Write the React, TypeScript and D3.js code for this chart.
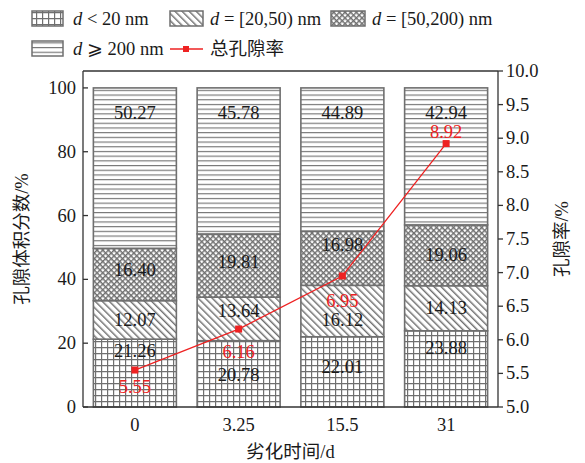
import React from 'react';
import * as d3 from 'd3';

const times = ['0', '3.25', '15.5', '31'];
const seriesNames = ['d < 20 nm', 'd = [20,50) nm', 'd = [50,200) nm', 'd ⩾ 200 nm'];
const small = [21.26, 20.78, 22.01, 23.88];
const mid = [12.07, 13.64, 16.12, 14.13];
const large = [16.40, 19.81, 16.98, 19.06];
const huge = [50.27, 45.78, 44.89, 42.94];
const porosity = [5.55, 6.16, 6.95, 8.92];
const leftTicks = [0, 20, 40, 60, 80, 100];
const rightTicks = [5, 5.5, 6, 6.5, 7, 7.5, 8, 8.5, 9, 9.5, 10];

// label nudges (px) for segment values and porosity labels, to avoid overlaps
const segNudge = [
  [-22, 0, -4],
  [1, -8, -4],
  [-5, 9, -13],
  [-21, 0, 0],
];
const porNudge = [17, 23, 25, -12];

const W = 585, H = 463;
const M = { top: 71, right: 87, bottom: 56, left: 83 };
const FONT = '"Liberation Serif", "Times New Roman", "DejaVu Serif", "Noto Sans CJK SC", serif';
const GRAY = '#6f6f6f';
const FS = 18.5;

const patIds = ['p-grid', 'p-diag', 'p-cross', 'p-horiz'];

function Patterns() {
  return (
    <defs>
      <pattern id="p-grid" width={6} height={6} patternUnits="userSpaceOnUse">
        <rect width={6} height={6} fill="#fff" />
        <path d="M0 0.6H6M0.6 0V6" stroke={GRAY} strokeWidth={1.2} />
      </pattern>
      <pattern id="p-diag" width={5} height={5} patternUnits="userSpaceOnUse" patternTransform="rotate(-45)">
        <rect width={5} height={5} fill="#fff" />
        <path d="M0.7 0V5" stroke={GRAY} strokeWidth={1.5} />
      </pattern>
      <pattern id="p-cross" width={4} height={4} patternUnits="userSpaceOnUse" patternTransform="rotate(45)">
        <rect width={4} height={4} fill="#fff" />
        <path d="M0 0.7H4M0.7 0V4" stroke={GRAY} strokeWidth={1.4} />
      </pattern>
      <pattern id="p-horiz" width={5} height={4.7} patternUnits="userSpaceOnUse">
        <rect width={5} height={4.7} fill="#fff" />
        <path d="M0 0.6H5" stroke={GRAY} strokeWidth={1.1} />
      </pattern>
    </defs>
  );
}

function LegendLabel({ x, y, text }: { x: number; y: number; text: string }) {
  const rest = text.slice(1);
  return (
    <text x={x} y={y} fontSize={FS} dominantBaseline="central" fill="#1a1a1a">
      <tspan fontStyle="italic">d</tspan>
      <tspan>{rest}</tspan>
    </text>
  );
}

export default function App() {
  const iw = W - M.left - M.right;
  const ih = H - M.top - M.bottom;
  const x = d3.scaleBand<string>().domain(times).range([0, iw]).paddingInner(0.2).paddingOuter(0.1);
  const y = d3.scaleLinear().domain([0, 105.3]).range([ih, 0]);
  const y2 = d3.scaleLinear().domain([5, 10]).range([ih, 0]);

  const series = [small, mid, large, huge];
  const rows = times.map((t, i) => ({ t, vals: series.map(s => s[i]) }));

  const line = d3.line<number>()
    .x((_, i) => (x(times[i]) ?? 0) + x.bandwidth() / 2)
    .y(d => y2(d));

  const legendItems = [
    { x: 32, y: 11, w: 31, text: seriesNames[0], pat: 0, tx: 73 },
    { x: 170, y: 11, w: 33, text: seriesNames[1], pat: 1, tx: 210 },
    { x: 331, y: 11, w: 34, text: seriesNames[2], pat: 2, tx: 372 },
    { x: 32, y: 41, w: 31, text: seriesNames[3], pat: 3, tx: 73 },
  ];

  return (
    <div style={{ position: 'absolute', left: 0, top: 0 }}>
      <svg width={W} height={H} style={{ display: 'block', background: '#fff', fontFamily: FONT }}>
        <Patterns />

        {/* legend */}
        {legendItems.map((l, i) => (
          <g key={i}>
            <rect x={l.x} y={l.y} width={l.w} height={15} fill={`url(#${patIds[l.pat]})`} stroke={GRAY} strokeWidth={1.5} />
            <LegendLabel x={l.tx} y={l.y + 8} text={l.text} />
          </g>
        ))}
        <line x1={170} x2={203} y1={49} y2={49} stroke="#ee2222" strokeWidth={1.3} />
        <rect x={183} y={46} width={6} height={6} fill="#ee2222" />
        <text x={210} y={49} fontSize={FS} dominantBaseline="central" fill="#1a1a1a">总孔隙率</text>

        <g transform={`translate(${M.left},${M.top})`}>
          {/* bars */}
          {rows.map(r => {
            const bx = x(r.t) ?? 0;
            let acc = 0;
            return (
              <g key={r.t}>
                {r.vals.map((v, j) => {
                  const y0 = acc;
                  acc += v;
                  return (
                    <rect key={j} x={bx} y={y(acc)} width={x.bandwidth()} height={y(y0) - y(acc)}
                      fill={`url(#${patIds[j]})`} stroke={GRAY} strokeWidth={1.6} />
                  );
                })}
              </g>
            );
          })}

          {/* segment labels */}
          {rows.map((r, i) => {
            const cx = (x(r.t) ?? 0) + x.bandwidth() / 2;
            let acc = 0;
            return r.vals.map((v, j) => {
              const y0 = acc;
              acc += v;
              const cy = j === 3 ? y(100) + 25 : (y(y0) + y(acc)) / 2 + segNudge[i][j];
              return (
                <text key={`${i}-${j}`} x={cx} y={cy} textAnchor="middle" dominantBaseline="central"
                  fontSize={FS} fill="#1a1a1a">{v.toFixed(2)}</text>
              );
            });
          })}

          {/* porosity line */}
          <path d={line(porosity) ?? ''} fill="none" stroke="#ee2222" strokeWidth={1.3} />
          {porosity.map((p, i) => {
            const cx = (x(times[i]) ?? 0) + x.bandwidth() / 2;
            return (
              <g key={i}>
                <rect x={cx - 3.5} y={y2(p) - 3.5} width={7} height={7} fill="#ee2222" />
                <text x={cx} y={y2(p) + porNudge[i]} textAnchor="middle" dominantBaseline="central"
                  fontSize={FS} fill="#ee2222">{p.toFixed(2)}</text>
              </g>
            );
          })}

          {/* frame */}
          <line x1={0} x2={iw} y1={0} y2={0} stroke="#333" strokeWidth={1.3} />
          <line x1={0} x2={iw} y1={ih} y2={ih} stroke="#333" strokeWidth={1.3} />
          <line x1={0} x2={0} y1={0} y2={ih} stroke="#333" strokeWidth={1.3} />
          <line x1={iw} x2={iw} y1={0} y2={ih} stroke="#333" strokeWidth={1.3} />

          {/* left axis */}
          {leftTicks.map(t => (
            <g key={t} transform={`translate(0,${y(t)})`}>
              <line x1={0} x2={5} stroke="#333" strokeWidth={1.3} />
              <text x={-7} textAnchor="end" dominantBaseline="central" fontSize={FS} fill="#1a1a1a">{t}</text>
            </g>
          ))}

          {/* right axis */}
          {rightTicks.map(t => (
            <g key={t} transform={`translate(${iw},${y2(t)})`}>
              <line x1={0} x2={5} stroke="#333" strokeWidth={1.3} />
              <text x={8} textAnchor="start" dominantBaseline="central" fontSize={FS} fill="#1a1a1a">{t.toFixed(1)}</text>
            </g>
          ))}

          {/* x ticks */}
          {times.map(t => (
            <text key={t} x={(x(t) ?? 0) + x.bandwidth() / 2} y={ih + 18} textAnchor="middle"
              dominantBaseline="central" fontSize={FS} fill="#1a1a1a">{t}</text>
          ))}

          <text x={iw / 2} y={ih + 45} textAnchor="middle" dominantBaseline="central" fontSize={FS} fill="#1a1a1a">劣化时间/d</text>
          <text transform={`translate(${-61},${ih / 2}) rotate(-90)`} textAnchor="middle" dominantBaseline="central"
            fontSize={FS} fill="#1a1a1a">孔隙体积分数/%</text>
          <text transform={`translate(${iw + 64},${ih / 2}) rotate(-90)`} textAnchor="middle" dominantBaseline="central"
            fontSize={FS} fill="#1a1a1a">孔隙率/%</text>
        </g>
      </svg>
    </div>
  );
}
